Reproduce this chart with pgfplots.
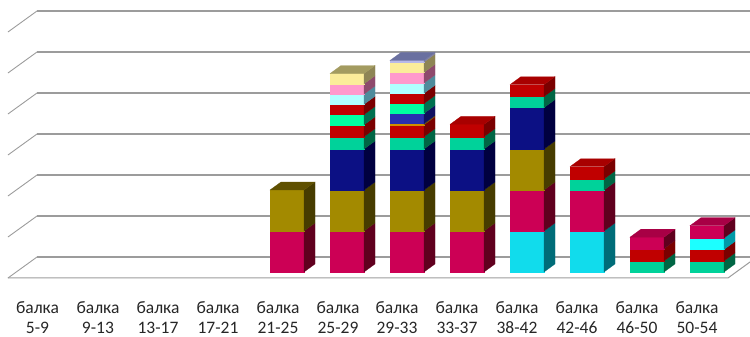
\documentclass[border=0pt]{standalone}
\usepackage{pgfplots}
\pgfplotsset{compat=1.18}
\usepackage{fontspec}
\setmainfont{Carlito}

% Face colours of the stacked blocks: front, side, lid
\definecolor{crimF}{HTML}{CC0055}\definecolor{crimS}{HTML}{60001E}\definecolor{crimT}{HTML}{A80045}
\definecolor{oliveF}{HTML}{A38A00}\definecolor{oliveS}{HTML}{473C00}\definecolor{oliveT}{HTML}{5F5000}
\definecolor{navyF}{HTML}{0C1084}\definecolor{navyS}{HTML}{000040}
\definecolor{greenF}{HTML}{00D29A}\definecolor{greenS}{HTML}{006644}
\definecolor{redF}{HTML}{C00000}\definecolor{redS}{HTML}{7A0000}\definecolor{redT}{HTML}{A80000}
\definecolor{paleF}{HTML}{B0FFFF}\definecolor{paleS}{HTML}{4F8C9C}
\definecolor{pinkF}{HTML}{FF99CC}\definecolor{pinkS}{HTML}{8E4A6C}
\definecolor{yellF}{HTML}{FBEC9A}\definecolor{yellS}{HTML}{8E8555}\definecolor{yellT}{HTML}{A39B60}
\definecolor{aquaF}{HTML}{11DCEC}\definecolor{aquaS}{HTML}{006C78}
\definecolor{cyanF}{HTML}{1CFFFF}\definecolor{cyanS}{HTML}{009AA8}
\definecolor{blueF}{HTML}{2A30B0}\definecolor{blueS}{HTML}{101060}
\definecolor{mintF}{HTML}{00FFA0}\definecolor{mintS}{HTML}{007050}
\definecolor{orngF}{HTML}{D09000}\definecolor{orngS}{HTML}{705000}
\definecolor{lilaF}{HTML}{B8B8E8}\definecolor{lilaS}{HTML}{8080A0}\definecolor{lilaT}{HTML}{6A70A0}
\definecolor{gridgray}{HTML}{9C9C9C}

% Block geometry in axis units: bar width and the depth offsets
\def\barw{0.567}\def\depx{0.183}\def\depy{0.195}

% \seg{column}{bottom}{top}{front}{side}: one block of a stack
\newcommand{\seg}[5]{%
  \pgfmathsetmacro\xa{#1}%
  \pgfmathsetmacro\xb{#1+\barw}%
  \pgfmathsetmacro\xc{#1+\barw+\depx}%
  \pgfmathsetmacro\yc{#2+\depy}%
  \pgfmathsetmacro\yd{#3+\depy}%
  \edef\doplot{\noexpand\addplot[fill=#4,draw=#4,line width=0.2pt] coordinates {(\xa,#2) (\xb,#2) (\xb,#3) (\xa,#3)} --cycle;
    \noexpand\addplot[fill=#5,draw=#5,line width=0.2pt] coordinates {(\xb,#2) (\xc,\yc) (\xc,\yd) (\xb,#3)} --cycle;}%
  \doplot}
% \lid{column}{height}{colour}: the top face of a stack
\newcommand{\lid}[3]{%
  \pgfmathsetmacro\xa{#1}%
  \pgfmathsetmacro\xb{#1+\barw}%
  \pgfmathsetmacro\xc{#1+\barw+\depx}%
  \pgfmathsetmacro\xd{#1+\depx}%
  \pgfmathsetmacro\yd{#2+\depy}%
  \edef\doplot{\noexpand\addplot[fill=#3,draw=#3,line width=0.2pt] coordinates {(\xa,#2) (\xb,#2) (\xc,\yd) (\xd,\yd)} --cycle;}%
  \doplot}

\begin{document}
\begin{tikzpicture}[x=1pt,y=1pt]
\useasboundingbox (0,-59) rectangle (750,278);
\begin{axis}[
  at={(0,0)},anchor=south west,
  scale only axis,width=750pt,height=278pt,
  xmin=-0.5,xmax=12,
  ymin=-0.1463,ymax=6.634,
  axis line style={draw=none},
  clip=false,
  no markers,
  ytick=\empty,
  major tick length=0pt,
  xtick={0.125,1.133,2.133,3.133,4.133,5.133,6.117,7.117,8.117,9.117,10.117,11.117},
  xticklabels={{балка\\5-9},{балка\\9-13},{балка\\13-17},{балка\\17-21},{балка\\21-25},{балка\\25-29},{балка\\29-33},{балка\\33-37},{балка\\38-42},{балка\\42-46},{балка\\46-50},{балка\\50-54}},
  xticklabel style={align=center,font=\fontsize{17.5}{20}\selectfont,yshift=-20.5pt,text=black!85},
]
% back wall gridlines and their slanted run along the side wall
\addplot[gridgray,line width=1.3pt] coordinates {(0.117,0.366) (12,0.366)};
\addplot[gridgray,line width=1.3pt] coordinates {(0.117,1.366) (12,1.366)};
\addplot[gridgray,line width=1.3pt] coordinates {(0.117,2.366) (12,2.366)};
\addplot[gridgray,line width=1.3pt] coordinates {(0.117,3.366) (12,3.366)};
\addplot[gridgray,line width=1.3pt] coordinates {(0.117,4.366) (12,4.366)};
\addplot[gridgray,line width=1.3pt] coordinates {(0.117,5.366) (12,5.366)};
\addplot[gridgray,line width=1.3pt] coordinates {(0.117,6.366) (12,6.366)};
\addplot[gridgray,line width=0.9pt] coordinates {(-0.367,-0.146) (0.117,0.366)};
\addplot[gridgray,line width=0.9pt] coordinates {(-0.367,0.854) (0.117,1.366)};
\addplot[gridgray,line width=0.9pt] coordinates {(-0.367,1.854) (0.117,2.366)};
\addplot[gridgray,line width=0.9pt] coordinates {(-0.367,2.854) (0.117,3.366)};
\addplot[gridgray,line width=0.9pt] coordinates {(-0.367,3.854) (0.117,4.366)};
\addplot[gridgray,line width=0.9pt] coordinates {(-0.367,4.854) (0.117,5.366)};
\addplot[gridgray,line width=0.9pt] coordinates {(-0.367,5.854) (0.117,6.366)};
% front edge of the floor
\addplot[gridgray,line width=1pt] coordinates {(-0.367,-0.146) (11.633,-0.146) (12,0.244)};

% балка 21-25
\seg{4}{0}{1}{crimF}{crimS}
\seg{4}{1}{2}{oliveF}{oliveS}
\lid{4}{2}{oliveT}
% балка 25-29
\seg{5}{0}{1}{crimF}{crimS}
\seg{5}{1}{2}{oliveF}{oliveS}
\seg{5}{2}{3}{navyF}{navyS}
\seg{5}{3}{3.3}{greenF}{greenS}
\seg{5}{3.3}{3.59}{redF}{redS}
\seg{5}{3.59}{3.84}{mintF}{mintS}
\seg{5}{3.84}{4.09}{redF}{redS}
\seg{5}{4.09}{4.34}{paleF}{paleS}
\seg{5}{4.34}{4.59}{pinkF}{pinkS}
\seg{5}{4.59}{4.84}{yellF}{yellS}
\lid{5}{4.84}{yellT}
% балка 29-33
\seg{6}{0}{1}{crimF}{crimS}
\seg{6}{1}{2}{oliveF}{oliveS}
\seg{6}{2}{3}{navyF}{navyS}
\seg{6}{3}{3.3}{greenF}{greenS}
\seg{6}{3.3}{3.59}{redF}{redS}
\seg{6}{3.59}{3.62}{orngF}{orngS}
\seg{6}{3.62}{3.87}{blueF}{blueS}
\seg{6}{3.87}{4.11}{mintF}{mintS}
\seg{6}{4.11}{4.36}{redF}{redS}
\seg{6}{4.36}{4.61}{paleF}{paleS}
\seg{6}{4.61}{4.87}{pinkF}{pinkS}
\seg{6}{4.87}{5.12}{yellF}{yellS}
\seg{6}{5.12}{5.16}{lilaF}{lilaS}
\lid{6}{5.16}{lilaT}
% балка 33-37
\seg{7}{0}{1}{crimF}{crimS}
\seg{7}{1}{2}{oliveF}{oliveS}
\seg{7}{2}{3}{navyF}{navyS}
\seg{7}{3}{3.3}{greenF}{greenS}
\seg{7}{3.3}{3.6}{redF}{redS}
\lid{7}{3.6}{redT}
% балка 38-42
\seg{8}{0}{1}{aquaF}{aquaS}
\seg{8}{1}{2}{crimF}{crimS}
\seg{8}{2}{3}{oliveF}{oliveS}
\seg{8}{3}{4.01}{navyF}{navyS}
\seg{8}{4.01}{4.28}{greenF}{greenS}
\seg{8}{4.28}{4.57}{redF}{redS}
\lid{8}{4.57}{redT}
% балка 42-46
\seg{9}{0}{1}{aquaF}{aquaS}
\seg{9}{1}{2}{crimF}{crimS}
\seg{9}{2}{2.27}{greenF}{greenS}
\seg{9}{2.27}{2.57}{redF}{redS}
\lid{9}{2.57}{redT}
% балка 46-50
\seg{10}{0}{0.27}{greenF}{greenS}
\seg{10}{0.27}{0.57}{redF}{redS}
\seg{10}{0.57}{0.85}{crimF}{crimS}
\lid{10}{0.85}{crimT}
% балка 50-54
\seg{11}{0}{0.27}{greenF}{greenS}
\seg{11}{0.27}{0.55}{redF}{redS}
\seg{11}{0.55}{0.83}{cyanF}{cyanS}
\seg{11}{0.83}{1.13}{crimF}{crimS}
\lid{11}{1.13}{crimT}
\end{axis}
\end{tikzpicture}
\end{document}
